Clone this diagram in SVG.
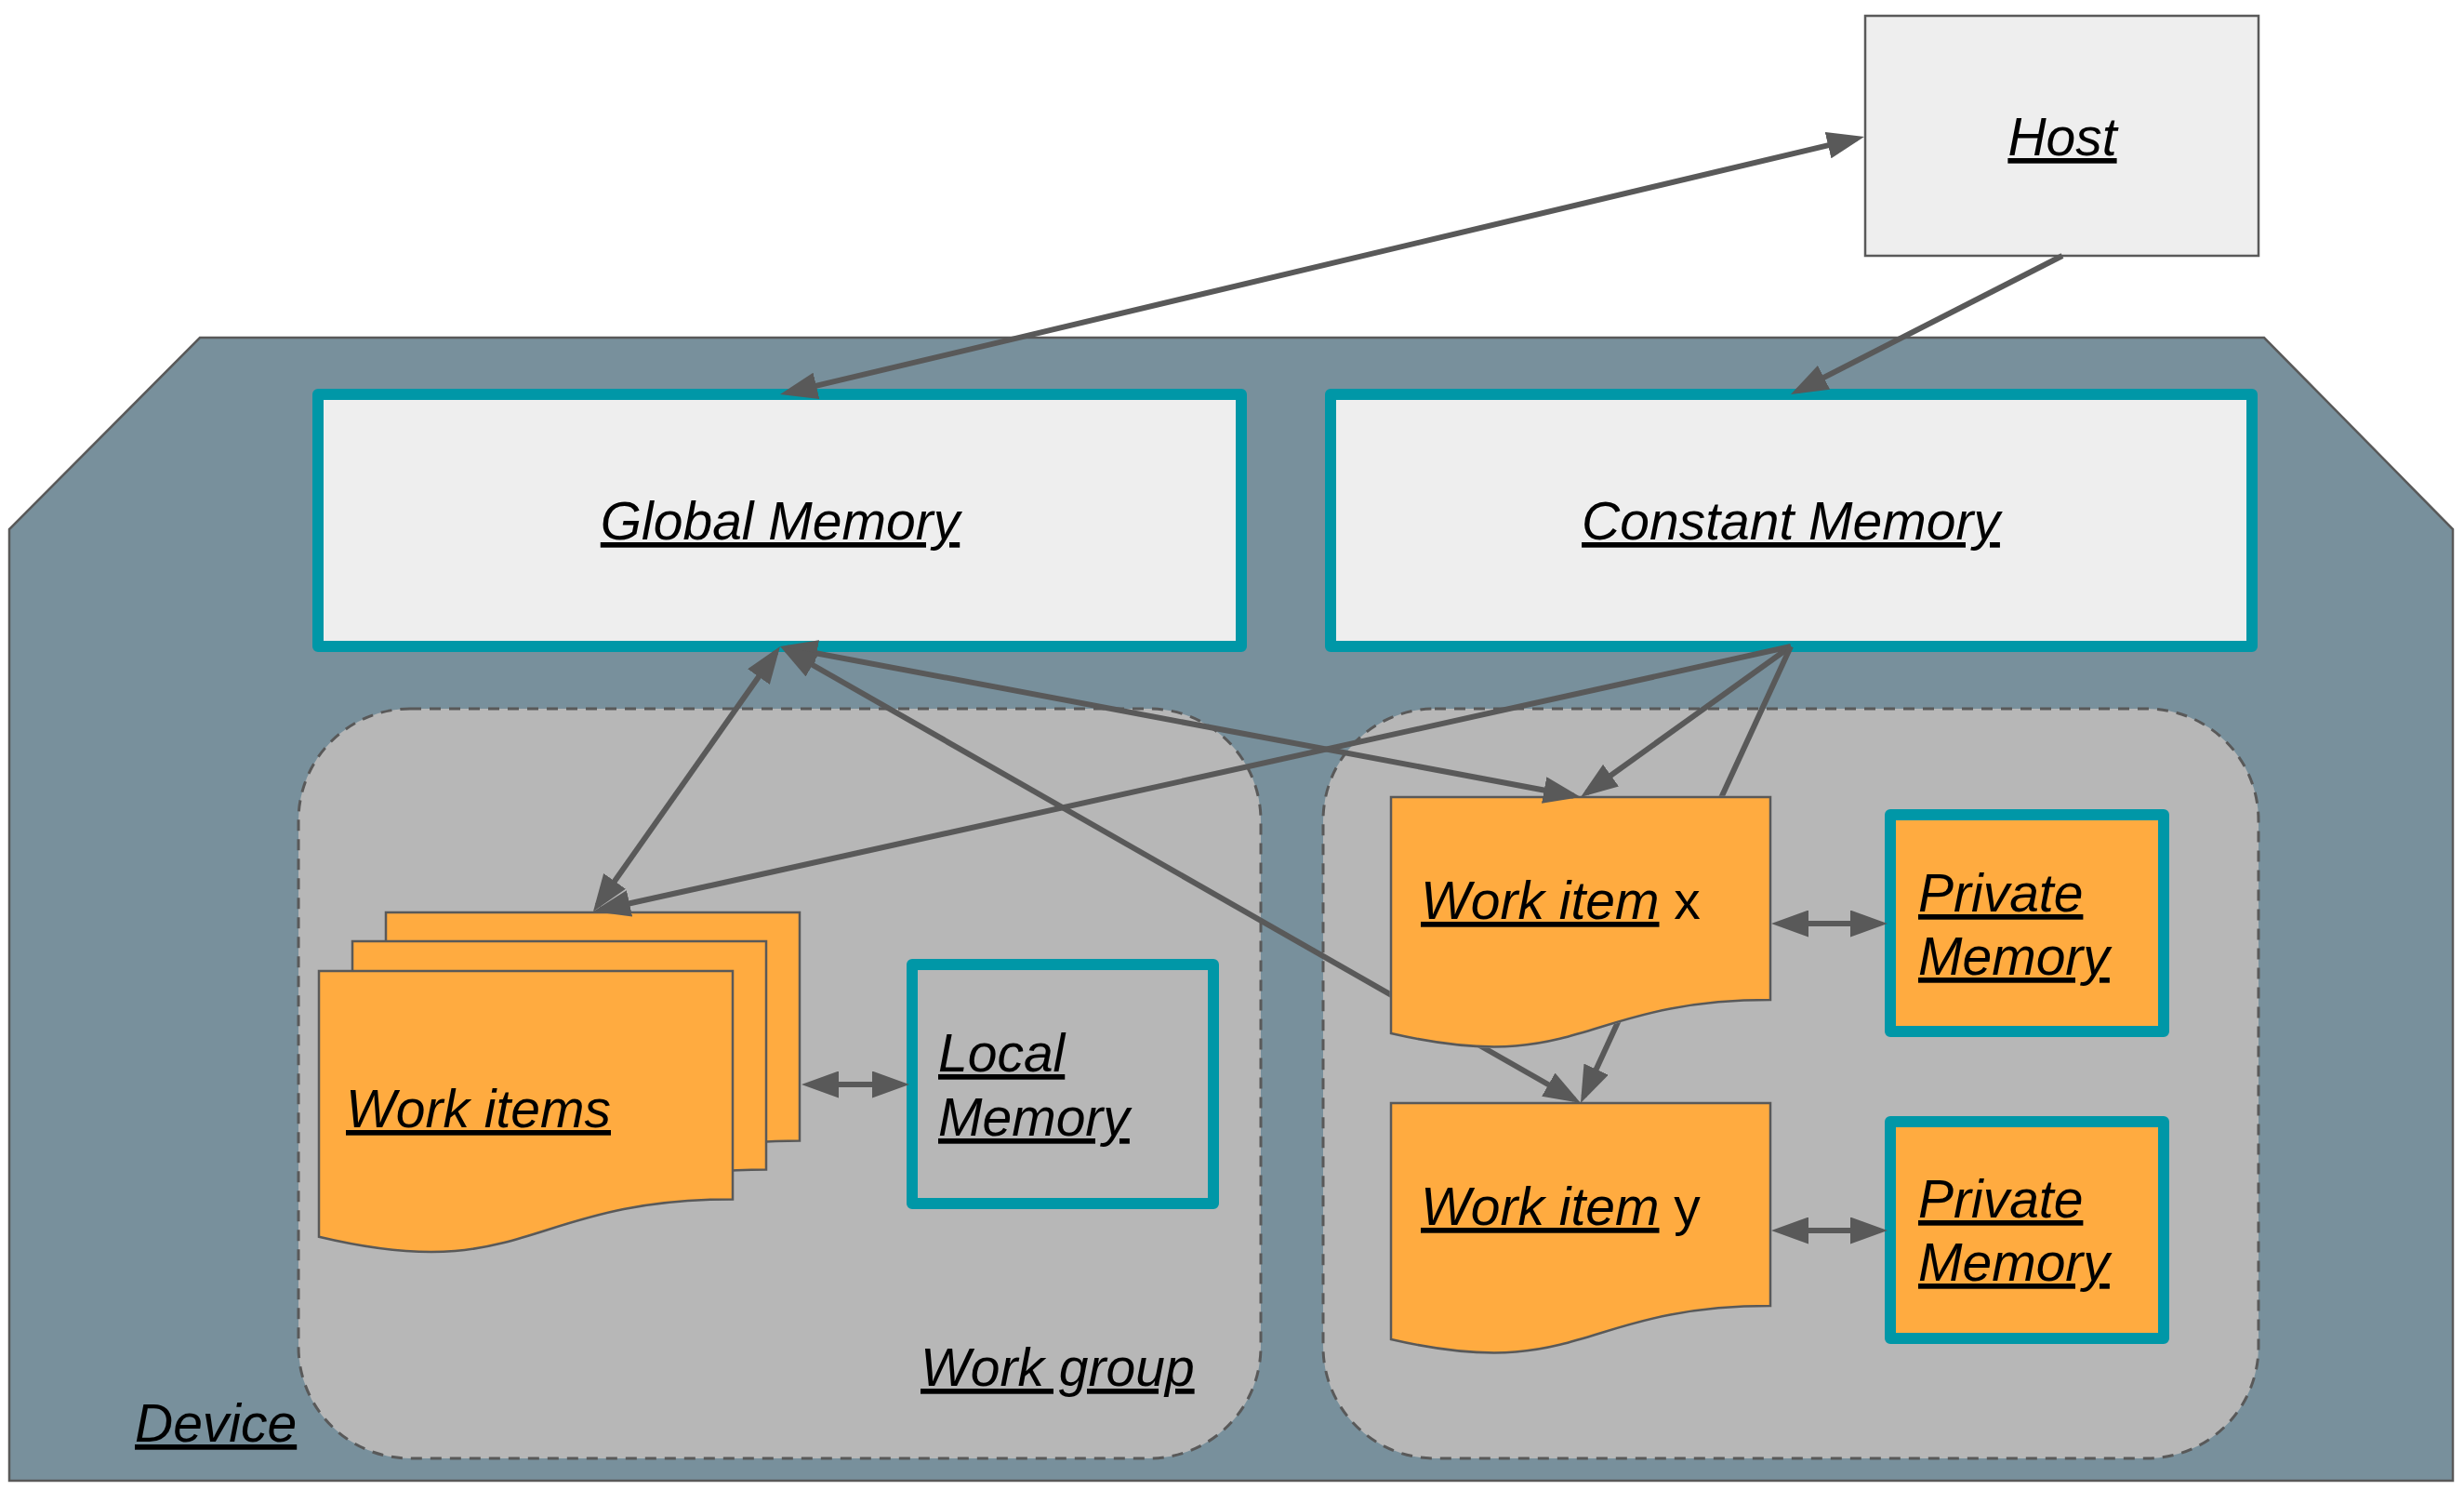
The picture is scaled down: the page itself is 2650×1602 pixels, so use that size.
<svg xmlns="http://www.w3.org/2000/svg" width="2650" height="1602" viewBox="0 0 2650 1602">
<style>
.t{font-family:"Liberation Sans",Arial,sans-serif;font-style:italic;font-size:57px;fill:#000}
.u{text-decoration:underline}
.n{font-style:normal}
.mem{stroke:#0097a7;stroke-width:12;stroke-linejoin:round}
.doc{fill:#ffab40;stroke:#595959;stroke-width:2.5}
.grp{fill:#b7b7b7;stroke:#595959;stroke-width:3;stroke-dasharray:12 9}
.c{stroke:#595959;stroke-width:6;fill:none}
</style>
<defs>
<marker id="ah" markerUnits="userSpaceOnUse" markerWidth="40" markerHeight="29" viewBox="0 0 40 29" refX="32" refY="14.5" orient="auto-start-reverse">
<path d="M0,0 L40,14.5 L0,29 Z" fill="#595959"/>
</marker>
<mask id="hideWIx" maskUnits="userSpaceOnUse" x="0" y="0" width="2650" height="1602">
<rect x="0" y="0" width="2650" height="1602" fill="#fff"/>
<path d="M1496,857 H1904 V1075.1 C1700,1075.1 1700,1158.2 1496,1111 Z" fill="#000" stroke="#000" stroke-width="2.5"/>
</mask>
</defs>
<g id="device">
<polygon points="215,363 2435,363 2638,569 2638,1592 10,1592 10,569" fill="#78909c" stroke="#595959" stroke-width="2.5"/>
<text class="t u" x="145" y="1550">Device</text>
</g>
<g id="workgroup1">
<rect class="grp" x="321" y="762" width="1035" height="806" rx="120" ry="120"/>
<text class="t u" x="990" y="1490">Work group</text>
</g>
<g id="workgroup2">
<rect class="grp" x="1423" y="762" width="1006" height="806" rx="120" ry="120"/>
</g>
<g id="host">
<rect x="2006" y="17" width="423" height="258" fill="#eeeeee" stroke="#595959" stroke-width="2.5"/>
<text class="t u" x="2218" y="167" text-anchor="middle">Host</text>
</g>
<g id="global-memory">
<rect class="mem" x="342" y="424" width="993" height="271" fill="#eeeeee"/>
<text class="t u" x="839" y="580" text-anchor="middle">Global Memory</text>
</g>
<g id="constant-memory">
<rect class="mem" x="1431" y="424" width="991" height="271" fill="#eeeeee"/>
<text class="t u" x="1926" y="580" text-anchor="middle">Constant Memory</text>
</g>
<g id="local-memory">
<rect class="mem" x="981" y="1037" width="324" height="257" fill="#b7b7b7"/>
<text class="t u" x="1009" y="1152">Local</text>
<text class="t u" x="1009" y="1221">Memory</text>
</g>
<g id="private-memory-x">
<rect class="mem" x="2033" y="876" width="294" height="233" fill="#ffab40"/>
<text class="t u" x="2063" y="980">Private</text>
<text class="t u" x="2063" y="1048">Memory</text>
</g>
<g id="private-memory-y">
<rect class="mem" x="2033" y="1206" width="294" height="233" fill="#ffab40"/>
<text class="t u" x="2063" y="1309">Private</text>
<text class="t u" x="2063" y="1377">Memory</text>
</g>
<g id="work-items">
<path class="doc" d="M415,981 H860 V1226.4 C637.5,1226.4 637.5,1319.9 415,1266.8 Z"/>
<path class="doc" d="M379,1012 H824 V1257.4 C601.5,1257.4 601.5,1350.9 379,1297.8 Z"/>
<path class="doc" d="M343,1044 H788 V1289.4 C565.5,1289.4 565.5,1382.9 343,1329.8 Z"/>
<text class="t u" x="372" y="1212">Work items</text>
</g>
<g id="work-item-x">
<path class="doc" d="M1496,857 H1904 V1075.1 C1700,1075.1 1700,1158.2 1496,1111 Z"/>
<text class="t" x="1528" y="988"><tspan class="u">Work item</tspan><tspan class="n"> x</tspan></text>
</g>
<g id="work-item-y">
<path class="doc" d="M1496,1186 H1904 V1404.1 C1700,1404.1 1700,1487.2 1496,1440 Z"/>
<text class="t" x="1528" y="1317"><tspan class="u">Work item</tspan><tspan class="n"> y</tspan></text>
</g>
<g id="connectors">
<line class="c" x1="846.8" y1="422.2" x2="1997.2" y2="148.8" marker-start="url(#ah)" marker-end="url(#ah)"/>
<line class="c" x1="2218" y1="275" x2="1933.1" y2="420.4" marker-end="url(#ah)"/>
<line class="c" x1="834.4" y1="701.5" x2="642.6" y2="973.5" marker-start="url(#ah)" marker-end="url(#ah)"/>
<line class="c" x1="1926" y1="695" x2="645.8" y2="978.3" marker-end="url(#ah)"/>
<line class="c" x1="846.9" y1="696.5" x2="1692.1" y2="855.5" marker-start="url(#ah)" marker-end="url(#ah)"/>
<line class="c" x1="1926" y1="695" x2="1706.5" y2="852.3" marker-end="url(#ah)"/>
<line class="c" x1="1926" y1="695" x2="1703.3" y2="1178.7" marker-end="url(#ah)" mask="url(#hideWIx)"/>
<line class="c" x1="846" y1="699" x2="1693.1" y2="1182" marker-start="url(#ah)" marker-end="url(#ah)" mask="url(#hideWIx)"/>
<line class="c" x1="870" y1="1166" x2="970" y2="1166" marker-start="url(#ah)" marker-end="url(#ah)"/>
<line class="c" x1="1913" y1="993" x2="2022" y2="993" marker-start="url(#ah)" marker-end="url(#ah)"/>
<line class="c" x1="1913" y1="1323" x2="2022" y2="1323" marker-start="url(#ah)" marker-end="url(#ah)"/>
</g>
</svg>
